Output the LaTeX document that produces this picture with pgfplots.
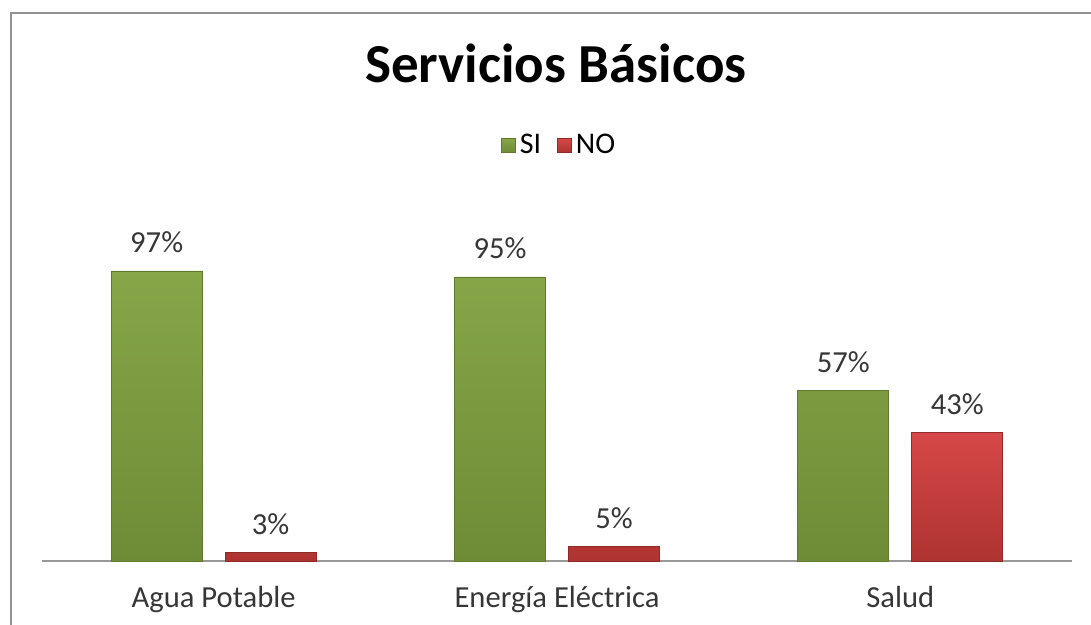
\documentclass[border=0pt]{standalone}
\usepackage{fontspec}
\setmainfont{Carlito}
\usepackage{pgfplots}
\pgfplotsset{compat=1.18}

\definecolor{siTop}{HTML}{86A648}
\definecolor{siBot}{HTML}{6E8C36}
\definecolor{siEdge}{HTML}{5F7A2C}
\definecolor{noTop}{HTML}{D64848}
\definecolor{noBot}{HTML}{AE3330}
\definecolor{noEdge}{HTML}{8E2A27}
\definecolor{txt}{HTML}{363636}

\begin{document}
\begin{tikzpicture}
% image frame: 1 px = 0.5 pt
\useasboundingbox (0,0) rectangle (545.5pt,-312.5pt);
\draw[gray!85, line width=1pt] (5.5pt,-312.5pt) -- (5.5pt,-6.5pt) -- (545.5pt,-6.5pt);

\begin{axis}[
  at={(21pt,-280.5pt)}, anchor=south west,
  scale only axis, width=515pt, height=149.5pt,
  ybar=11.5pt, bar width=45.5pt,
  ymin=0, ymax=100,
  xmin=-0.5, xmax=2.5,
  xtick=data,
  xticklabels={Agua Potable, Energía Eléctrica, Salud},
  axis x line=bottom, axis line style={gray!80, line width=0.6pt, -},
  hide y axis,
  major tick length=0pt,
  clip=false,
  /pgf/number format/assume math mode=true,
  font=\fontsize{15.3}{18}\selectfont,
  xticklabel style={anchor=base, yshift=-23pt, text=txt},
  nodes near coords={\pgfmathprintnumber{\pgfplotspointmeta}\%},
  nodes near coords style={anchor=base, yshift=9pt, text=txt, font=\fontsize{15.3}{18}\selectfont},
  title={\textbf{Servicios Básicos}},
  title style={at={(rel axis cs:0.499,1.561)}, anchor=base, font=\fontsize{27.5}{32}\selectfont},
  legend style={at={(0.503,1.39)}, anchor=center, draw=none, fill=none,
    legend columns=-1, text=black, font=\fontsize{15}{18}\selectfont,
    /tikz/every even column/.append style={column sep=6pt}},
  legend image code/.code={\draw[#1] (0pt,-3.5pt) rectangle (7pt,3.5pt);},
]
\addplot[draw=siEdge, line width=0.4pt, top color=siTop, bottom color=siBot] coordinates {(0,97) (1,95) (2,57)};
\addlegendentry{SI}
\addplot[draw=noEdge, line width=0.4pt, top color=noTop, bottom color=noBot] coordinates {(0,3) (1,5) (2,43)};
\addlegendentry{NO}
\end{axis}
\end{tikzpicture}
\end{document}
